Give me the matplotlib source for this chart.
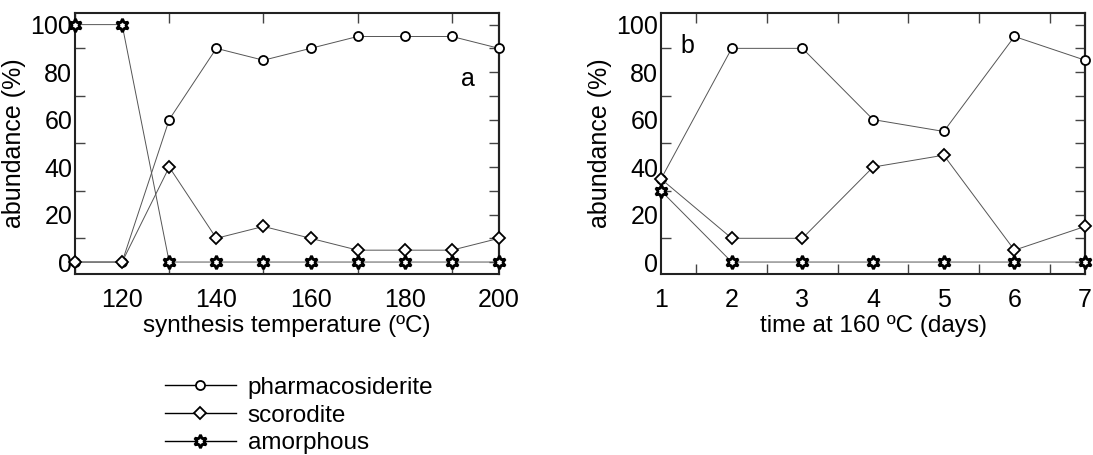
import matplotlib
matplotlib.use("Agg")
import matplotlib.pyplot as plt
from matplotlib.lines import Line2D

plt.rcParams['font.family'] = ['Liberation Sans', 'DejaVu Sans']

# panel a: synthesis temperature series
temp = [110, 120, 130, 140, 150, 160, 170, 180, 190, 200]
pharm_a = [0, 0, 60, 90, 85, 90, 95, 95, 95, 90]
scor_a = [0, 0, 40, 10, 15, 10, 5, 5, 5, 10]
amor_a = [100, 100, 0, 0, 0, 0, 0, 0, 0, 0]

# panel b: time at 160 C series
days = [1, 2, 3, 4, 5, 6, 7]
pharm_b = [35, 90, 90, 60, 55, 95, 85]
scor_b = [35, 10, 10, 40, 45, 5, 15]
amor_b = [30, 0, 0, 0, 0, 0, 0]

names = ['pharmacosiderite', 'scorodite', 'amorphous']

line_kw = dict(color='#555555', lw=0.7)
mk = {
    'pharmacosiderite': dict(marker='o', ms=6.5, mfc='white', mec='black', mew=1.3),
    'scorodite': dict(marker='D', ms=6.5, mfc='white', mec='black', mew=1.3),
    'amorphous': dict(marker=(6, 1, 0), ms=9.5, mfc='white', mec='black', mew=2),
}

fig = plt.figure(figsize=(10.93, 4.55), dpi=100)
ax_a = fig.add_axes([0.0686, 0.398, 0.388, 0.574])
ax_b = fig.add_axes([0.6048, 0.398, 0.388, 0.574])


def style(ax, xlim, xlabels, xminor):
    ax.set_xlim(*xlim)
    ax.set_ylim(-5, 105)
    ax.set_xticks(xlabels)
    ax.set_xticks(xminor, minor=True)
    ax.set_yticks(range(0, 101, 20))
    ax.set_yticks(range(10, 100, 20), minor=True)
    ax.tick_params(which='major', length=0, labelsize=18)
    ax.tick_params(axis='x', which='major', pad=10)
    ax.tick_params(axis='y', which='major', pad=2)
    ax.tick_params(axis='x', which='minor', direction='in', length=7,
                   width=1, top=True, bottom=True, color='#444444')
    ax.tick_params(axis='y', which='minor', direction='in', length=7,
                   width=1, left=True, right=False, color='#444444')
    for s in ax.spines.values():
        s.set_linewidth(1.5)
        s.set_color('#222222')
    sec = ax.secondary_yaxis('right')
    sec.set_yticks(range(0, 101, 10))
    sec.set_yticklabels([])
    sec.tick_params(direction='in', length=7, width=1, color='#444444')
    sec.spines['right'].set_linewidth(1.5)
    ax.set_ylabel('abundance (%)', fontsize=18, labelpad=3)


for ax, x, series in [(ax_a, temp, [pharm_a, scor_a, amor_a]),
                      (ax_b, days, [pharm_b, scor_b, amor_b])]:
    for name, y in zip(names, series):
        ax.plot(x, y, **line_kw, **mk[name], clip_on=False, zorder=3)

style(ax_a, (110, 200), range(120, 201, 20), range(110, 200, 20))
style(ax_b, (1, 7), range(1, 8), [1.5, 2.5, 3.5, 4.5, 5.5, 6.5])
ax_a.set_xlabel('synthesis temperature (ºC)', fontsize=17.5, labelpad=2)
ax_b.set_xlabel('time at 160 ºC (days)', fontsize=17.5, labelpad=2)
ax_a.text(0.927, 0.745, 'a', transform=ax_a.transAxes, fontsize=18,
          ha='center', va='center')
ax_b.text(0.063, 0.872, 'b', transform=ax_b.transAxes, fontsize=18,
          ha='center', va='center')

handles = [Line2D([], [], color='black', lw=1, **mk[n]) for n in names]
fig.legend(handles, names, loc='upper left', bbox_to_anchor=(0.151, 0.172),
           frameon=False, fontsize=17.5, handlelength=2.9, handletextpad=0.5,
           labelspacing=0.24, borderaxespad=0, borderpad=0)

fig.savefig('out.png', dpi=100)
